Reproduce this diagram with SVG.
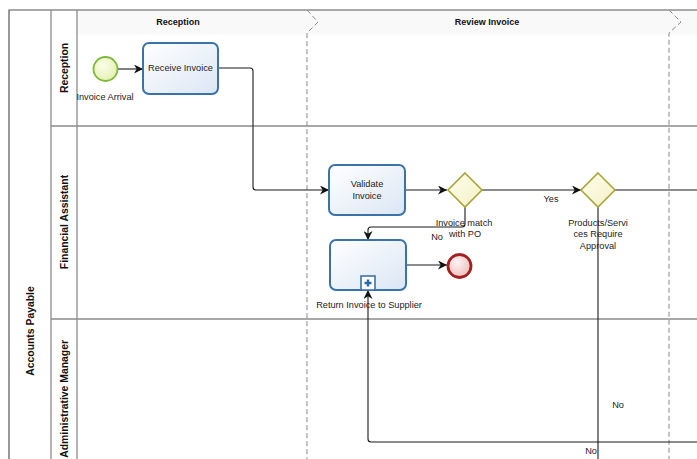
<svg xmlns="http://www.w3.org/2000/svg" width="697" height="459" viewBox="0 0 697 459">
<defs>
<linearGradient id="gTask" x1="0" y1="0" x2="1" y2="1"><stop offset="0" stop-color="#ffffff"/><stop offset="1" stop-color="#dbe6f4"/></linearGradient>
<linearGradient id="gGw" x1="0" y1="0" x2="1" y2="1"><stop offset="0" stop-color="#ffffee"/><stop offset="1" stop-color="#f3f0c4"/></linearGradient>
<radialGradient id="gStart" cx="0.4" cy="0.35" r="0.7"><stop offset="0" stop-color="#fbfde8"/><stop offset="1" stop-color="#e4f0b0"/></radialGradient>
<radialGradient id="gEnd" cx="0.4" cy="0.35" r="0.7"><stop offset="0" stop-color="#fdf3f3"/><stop offset="1" stop-color="#eebcbc"/></radialGradient>
<marker id="arr" viewBox="0 0 10 10" refX="10" refY="5" markerWidth="9" markerHeight="9" markerUnits="userSpaceOnUse" orient="auto">
<path d="M0,0 L10,5 L0,10 L3,5 Z" fill="#111"/>
</marker>
<style>
.pool{fill:none;stroke:#555;stroke-width:1.2}
.lane{fill:none;stroke:#8c8c8c;stroke-width:1.3}
.phase{fill:none;stroke:#8a8a8a;stroke-width:1;stroke-dasharray:5,3}
.task{fill:url(#gTask);stroke:#3b72a8;stroke-width:2}
.gw{fill:url(#gGw);stroke:#a9a53c;stroke-width:1.6}
.flow{fill:none;stroke:#1a1a1a;stroke-width:1.1;marker-end:url(#arr)}
.line{fill:none;stroke:#1a1a1a;stroke-width:1.1}
.t{font-family:"Liberation Sans",Arial,sans-serif;font-size:9.2px;fill:#222;text-anchor:middle}
.h{font-family:"Liberation Sans",Arial,sans-serif;font-size:9px;font-weight:bold;fill:#111;text-anchor:middle}
.l{font-family:"Liberation Sans",Arial,sans-serif;font-size:10.4px;font-weight:bold;fill:#111;text-anchor:middle}
</style>
</defs>
<rect x="0" y="0" width="697" height="459" fill="#ffffff"/>

<g id="pool">
<rect x="77" y="10.5" width="620" height="24" fill="#f9f9f9"/>
<path class="pool" d="M697,10 H9 V459"/>
<path class="lane" d="M51,10 V459 M77,10 V459 M51,126 H697 M51,319 H697"/>
<text class="l" transform="translate(34,331) rotate(-90)">Accounts Payable</text>
</g>

<g id="lane-reception"><text class="l" transform="translate(68,68) rotate(-90)">Reception</text></g>
<g id="lane-financial"><text class="l" transform="translate(68,222) rotate(-90)">Financial Assistant</text></g>
<g id="lane-admin"><text class="l" style="text-anchor:end" transform="translate(68,340) rotate(-90)">Administrative Manager</text></g>

<g id="phase-reception"><text class="h" x="178" y="25">Reception</text></g>
<g id="phase-review">
<path class="phase" d="M307,10 L318,22 L307,33 V459"/>
<text class="h" x="487" y="25">Review Invoice</text>
</g>
<g id="phase-next"><path class="phase" d="M669,10 L681,22 L669,33 V459"/></g>

<g id="connectors">
<path class="flow" d="M118,69 H143"/>
<path class="flow" d="M218,68 H250 Q253,68 253,71 V187 Q253,190 256,190 H329"/>
<path class="flow" d="M405,190 H447"/>
<path class="flow" d="M465,207 V224 Q465,227 462,227 H371 Q368,227 368,230 V240"/>
<path class="flow" d="M406,265 H447"/>
<path class="flow" d="M482,190 H581"/>
<path class="line" d="M614,190 H697"/>
<path class="line" d="M598,207 V459"/>
<path class="flow" d="M697,442 H371 Q368,442 368,439 V290"/>
<text class="t" x="437" y="240">No</text>
<text class="t" x="551" y="202">Yes</text>
<text class="t" x="618" y="408">No</text>
<text class="t" x="591" y="454">No</text>
</g>

<g id="start-invoice-arrival">
<circle cx="105.5" cy="69" r="12" fill="url(#gStart)" stroke="#7fb93c" stroke-width="1.8"/>
<text class="t" x="105" y="100">Invoice Arrival</text>
</g>

<g id="task-receive-invoice">
<rect class="task" x="143" y="43" width="75" height="51" rx="6"/>
<text class="t" x="180.5" y="71">Receive Invoice</text>
</g>

<g id="task-validate-invoice">
<rect class="task" x="329" y="165" width="76" height="50" rx="6"/>
<text class="t" x="367" y="187">Validate</text>
<text class="t" x="367" y="199">Invoice</text>
</g>

<g id="gw-invoice-match">
<polygon class="gw" points="465,173 482,190 465,207 448,190"/>
<text class="t" x="464" y="226">Invoice match</text>
<text class="t" x="465" y="237">with PO</text>
</g>

<g id="sub-return-invoice">
<rect class="task" x="330" y="240" width="76" height="50" rx="6"/>
<rect x="361" y="276" width="14" height="14" fill="#ffffff" stroke="#3b72a8" stroke-width="1.6"/>
<path d="M368,279.5 V286.5 M364.5,283 H371.5" stroke="#2e6aa6" stroke-width="2.4"/>
<text class="t" x="369" y="308">Return Invoice to Supplier</text>
</g>

<g id="end-returned">
<circle cx="459.5" cy="266" r="11.5" fill="url(#gEnd)" stroke="#a32020" stroke-width="2.8"/>
</g>

<g id="gw-approval">
<polygon class="gw" points="598,173 615,190 598,207 581,190"/>
<text class="t" x="598" y="226">Products/Servi</text>
<text class="t" x="598" y="237">ces Require</text>
<text class="t" x="598" y="249">Approval</text>
</g>
</svg>
